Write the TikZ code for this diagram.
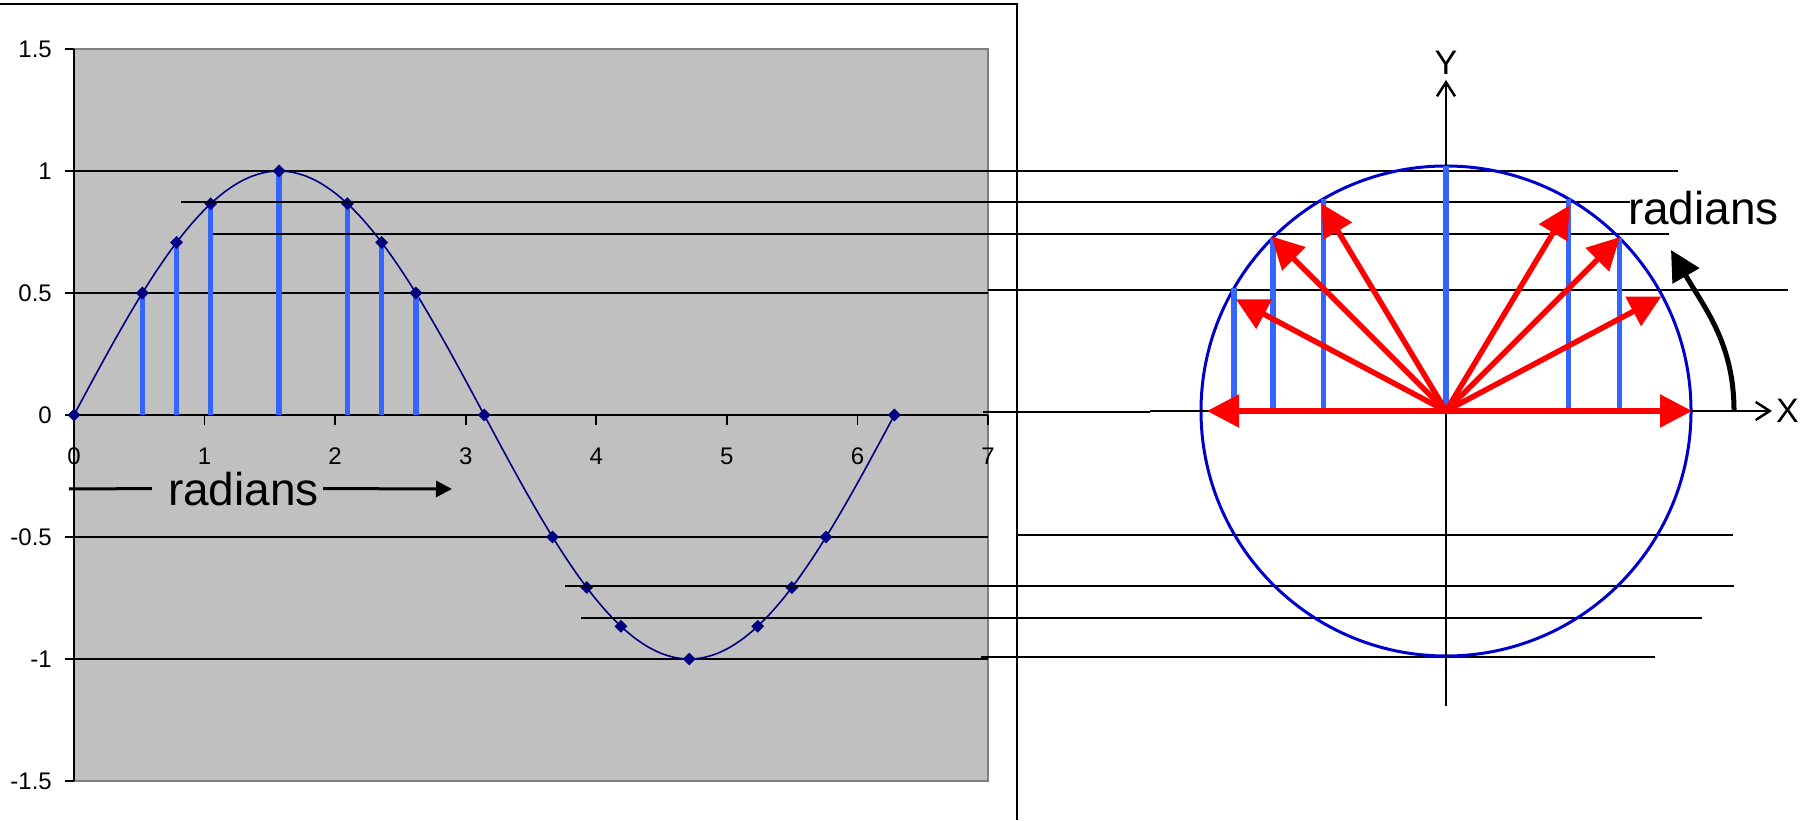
\documentclass[tikz,border=0pt]{standalone}
\usepackage{fontspec}
\setmainfont{Liberation Sans}
\usetikzlibrary{arrows.meta,shapes.geometric,positioning}

\definecolor{navyline}{RGB}{0,0,128}
\definecolor{barblue}{RGB}{51,102,255}
\definecolor{plotgray}{RGB}{192,192,192}
\definecolor{framegray}{RGB}{128,128,128}
\definecolor{circleblue}{RGB}{0,0,204}

\begin{document}
\begin{tikzpicture}[x=1pt, y=1pt,
            ticklabel/.style={inner sep=0pt, font=\fontsize{24}{24}\selectfont},
            bigtext/.style={inner sep=0pt, font=\fontsize{46}{46}\selectfont},
            axislabel/.style={inner sep=0pt, font=\fontsize{34}{34}\selectfont},
            grid/.style={line width=1.7pt, black},
            level/.style={line width=1.8pt, black},
            sine/.style={line width=1.6pt, navyline},
            marker/.style={diamond, fill=navyline, inner sep=0pt, minimum size=13pt},
            bar/.style={line width=5.5pt, barblue},
            vector/.style={line width=5.5pt, red, -{Triangle[length=32pt, width=32pt]}},
            axis/.style={line width=2.5pt, -{Straight Barb[length=14pt, width=18pt]}},
            turn/.style={line width=5pt, -{Triangle[length=30pt, width=30pt]}},
            pointer/.style={line width=3pt, -{Triangle[length=16pt, width=16pt]}}
        ]
            \useasboundingbox (0,0) rectangle (1814,820);

            % Chart: plot area, grid and axes
            \begin{scope}[shift={(74,405)}, x=130.57pt, y=244pt]
                \fill[plotgray] (0,-1.5) rectangle (7,1.5);
                \draw[framegray, line width=2.5pt] (0,-1.5) -- (7,-1.5) -- (7,1.5) -- (0,1.5);
                \foreach \v in {-1,-0.5,0.5,1} {
                    \draw[grid] (0,\v) -- (7,\v);
                }
                \draw[grid] (0,0) -- (7,0);
                \draw[grid] (0,-1.5) -- (0,1.5);

                % Ticks and labels
                \foreach \k in {0,...,7} {
                    \draw[grid] (\k,0) -- ++(0pt,-10pt);
                    \node[ticklabel, yshift=-41pt] (x\k) at (\k,0) {\k};
                }
                \foreach \v in {-1.5,-1,-0.5,0,0.5,1,1.5} {
                    \draw[grid] (0,\v) -- ++(-9pt,0pt);
                    \node[ticklabel, anchor=east, xshift=-22pt] (y\v) at (0,\v) {\v};
                }

                % Sine curve, bars and markers
                \draw[sine] plot[domain=0:6.2832, samples=61, smooth] (\x, {sin(\x r)});
                \foreach \a in {30,45,60,90,120,135,150} {
                    \coordinate (b\a) at ({\a*pi/180},0);
                    \coordinate (p\a) at ({\a*pi/180},{sin(\a)});
                    \draw[bar] (b\a) -- (p\a);
                }
                \foreach \a in {0,30,45,60,90,120,135,150,180,210,225,240,270,300,315,330,360} {
                    \node[marker] (m\a) at ({\a*pi/180},{sin(\a)}) {};
                }
            \end{scope}

            % Time axis label on the chart
            \node[bigtext, anchor=base] (radL) at (243.5,315) {radians};
            \coordinate (radLa) at (69,331);
            \coordinate (radLb) at (452,331);
            \draw[line width=3pt] (radLa) -- ([xshift=-16pt]radL.west);
            \draw[pointer] ([xshift=4pt]radL.east) -- (radLb);

            % Level lines from the chart to the circle
            \foreach \xa/\xb/\yy in {985/1678/649, 181/1630/618, 213/1669/586, 988/1788/530,
                                      983/1150/408, 1018/1733/285, 565/1734/234, 581/1702/202,
                                      981/1655/163} {
                \draw[level] (\xa,\yy) -- (\xb,\yy);
            }

            % Frame round the chart
            \draw[line width=2.7pt] (0,816) -- (1017,816) -- (1017,0);

            % Unit circle and axes
            \coordinate (c) at (1446,409);
            \draw[circleblue, line width=3pt] (c) circle[radius=245];

            \coordinate (ybot) at (1446,114);
            \coordinate (ytop) at (1446,740);
            \draw[axis] (ybot) -- (ytop);
            \node[axislabel] (ylab) at (1446,757) {Y};

            \coordinate (xstart) at (1150,409);
            \coordinate (xtip) at (1772,409);
            \draw[axis] (xstart) -- (xtip);
            \node[axislabel, anchor=west] (xlab) at (1776,409) {X};

            % Projections onto the x axis
            \foreach \a in {45,60,90,120,135,150} {
                \path (c) ++(\a:245) coordinate (t\a);
                \draw[bar] (t\a) -- (t\a |- c);
            }

            % Radius vectors
            \foreach \a/\r in {0/246, 28/244, 45/246, 59/240, 121/242, 135/247, 152/238, 180/239} {
                \path (c) ++(\a:\r) coordinate (v\a);
                \draw[vector] (c) -- (v\a);
            }

            % Angle arrow and its label
            \coordinate (turnstart) at (1734,409);
            \coordinate (turnend) at (1671,570);
            \draw[turn] (turnstart) to[out=90, in=-60] (turnend);
            \node[bigtext, anchor=base] (radR) at (1703.5,595) {radians};
        \end{tikzpicture}
\end{document}
